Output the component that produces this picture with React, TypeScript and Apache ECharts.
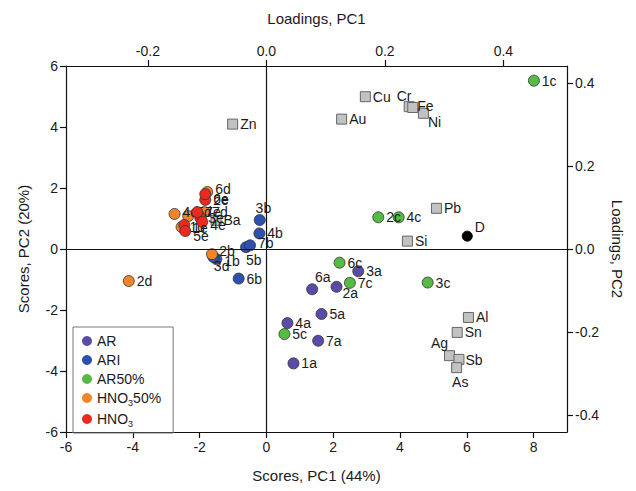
import React, { useEffect, useRef } from "react";
import * as echarts from "echarts";

// ---- Scores (PC1, PC2) ----
const arNames = ["1a", "2a", "3a", "4a", "5a", "6a", "7a"];
const arX = [0.81, 2.1, 2.75, 0.63, 1.65, 1.37, 1.55];
const arY = [-3.75, -1.24, -0.73, -2.43, -2.13, -1.32, -3.01];

const ariNames = ["1b", "2b", "3b", "4b", "5b", "6b", "7b"];
const ariX = [-1.5, -1.59, -0.2, -0.21, -0.61, -0.83, -0.49];
const ariY = [-0.33, -0.26, 0.95, 0.51, 0.06, -0.97, 0.12];

const ar50Names = ["1c", "2c", "3c", "4c", "5c", "6c", "7c"];
const ar50X = [8.01, 3.35, 4.83, 3.96, 0.54, 2.19, 2.5];
const ar50Y = [5.52, 1.04, -1.1, 1.04, -2.79, -0.45, -1.11];

const hno50Names = ["1d", "2d", "3d", "4d", "5d", "6d", "7d"];
const hno50X = [-2.54, -4.12, -1.63, -2.75, -2.34, -1.77, -1.86];
const hno50Y = [0.72, -1.05, -0.17, 1.15, 1.08, 1.87, 1.21];

const hnoNames = ["1e", "2e", "3e", "4e", "5e", "6e", "7e"];
const hnoX = [-2.46, -1.83, -1.98, -1.92, -2.43, -1.83, -2.07];
const hnoY = [0.79, 1.61, 1.02, 0.89, 0.59, 1.8, 1.21];

// ---- Loadings (PC1, PC2) ----
const loadNames = ["Zn", "Cu", "Au", "Cr", "Fe", "Ni", "Pb", "Si", "Ba", "Al", "Sn", "Ag", "Sb", "As"];
const loadX = [-0.057, 0.167, 0.127, 0.241, 0.247, 0.265, 0.287, 0.238, -0.085, 0.341, 0.322, 0.309, 0.325, 0.321];
const loadY = [0.301, 0.367, 0.313, 0.343, 0.341, 0.327, 0.098, 0.019, 0.069, -0.165, -0.201, -0.257, -0.266, -0.286];
const dName = ["D"];
const dX = [0.339];
const dY = [0.031];

// ---- Axis ticks ----
const scoreXTicks = [-6, -4, -2, 0, 2, 4, 6, 8];
const scoreYTicks = [-6, -4, -2, 0, 2, 4, 6];
const loadXTicks = [-0.2, 0, 0.2, 0.4];
const loadYTicks = [-0.4, -0.2, 0, 0.2, 0.4];

// ---- Styling (not data) ----
const FONT = "'Liberation Sans', Arial, sans-serif";
const TXT = "#1a1a1a";
const labelOffsets: Record<string, [number, number]> = {
  "3b": [-12, -12],
  "5b": [-8, 13],
  "3d": [-6, 12],
  "2b": [-2, -6],
  "1b": [0, 2],
  "6a": [-5, -12],
  "2a": [-2, 6],
  "6d": [0, -3],
  "6e": [0, 5],
  "2e": [0, 0],
  "5e": [0, 5],
  "1e": [0, 3],
  "4e": [0, 3],
  "7d": [0, 0],
  "5d": [0, -4],
  "4d": [0, -2],
  "7e": [0, 0],
  "3e": [0, 0],
  "7b": [0, -2],
  "Cr": [-20, -11],
  "Fe": [-3, -1],
  "Ni": [-3, 9],
  "Ag": [-26, -13],
  "Sb": [-1, 1],
  "As": [-12, 14],
  "D": [0, -9],
};

function buildData(names: string[], xs: number[], ys: number[]) {
  return names.map((n, i) => ({
    name: n,
    value: [xs[i], ys[i]],
    label: labelOffsets[n] ? { offset: labelOffsets[n] } : undefined,
  }));
}

function makeLabel() {
  return {
    show: true,
    position: "right",
    distance: 2,
    fontSize: 14,
    color: TXT,
    opacity: 1,
    fontFamily: FONT,
    formatter: (p: any) => p.name,
  };
}

function scoreSeries(name: string, color: string, names: string[], xs: number[], ys: number[], z: number) {
  return {
    name,
    type: "scatter",
    xAxisIndex: 0,
    yAxisIndex: 0,
    symbol: "circle",
    symbolSize: 11,
    z,
    itemStyle: { color, borderColor: "#333", borderWidth: 0.8, opacity: 1 },
    label: makeLabel(),
    data: buildData(names, xs, ys),
  };
}

const legendNames: Record<string, string> = {
  AR: "AR",
  ARI: "ARI",
  "AR50%": "AR50%",
  "HNO3 50%": "HNO{s|3}50%",
  HNO3: "HNO{s|3}",
};

export default function App() {
  const ref = useRef<HTMLDivElement>(null);
  useEffect(() => {
    if (!ref.current) return;
    const chart = echarts.init(ref.current, undefined, { renderer: "svg" });
    const axisLine = { show: true, onZero: false, lineStyle: { color: "#111", width: 1.2 } };
    const tick = { show: true, inside: false, length: 6, lineStyle: { color: "#111", width: 1.2 } };
    const nameStyle = { fontSize: 15, color: TXT, fontFamily: FONT };
    const lblCommon = { fontSize: 14, color: TXT, fontFamily: FONT, margin: 8 };
    const scoreXMin = -6, scoreXMax = 9;
    const scoreYMin = -6, scoreYMax = 6;
    const rx = 0.05637; // loading units per score unit along PC1
    const ry = 0.0735;
    const option: any = {
      animation: false,
      backgroundColor: "#fff",
      textStyle: { fontFamily: FONT },
      grid: { left: 66, right: 69, top: 66, bottom: 59, containLabel: false },
      legend: {
        show: true,
        orient: "vertical",
        left: 73,
        top: 327,
        data: ["AR", "ARI", "AR50%", "HNO3 50%", "HNO3"],
        itemWidth: 10,
        itemHeight: 10,
        itemGap: 5,
        padding: [7, 12, 5, 9],
        borderColor: "#777",
        borderWidth: 1,
        icon: "circle",
        itemStyle: { borderWidth: 0 },
        formatter: (n: string) => legendNames[n] || n,
        textStyle: {
          fontSize: 14,
          color: TXT,
          fontFamily: FONT,
          rich: { s: { fontSize: 9, padding: [9, 0, 0, 0], color: TXT, fontFamily: FONT } },
        },
      },
      xAxis: [
        {
          type: "value",
          position: "bottom",
          min: scoreXMin,
          max: scoreXMax,
          interval: 2,
          name: "Scores, PC1 (44%)",
          nameLocation: "middle",
          nameGap: 36,
          nameTextStyle: nameStyle,
          splitLine: { show: false },
          axisLine,
          axisTick: { ...tick, customValues: scoreXTicks },
          axisLabel: {
            ...lblCommon,
            customValues: scoreXTicks,
            formatter: (v: number) => (scoreXTicks.includes(v) ? String(v) : ""),
          },
        },
        {
          type: "value",
          position: "top",
          min: scoreXMin * rx,
          max: scoreXMax * rx,
          splitNumber: 4,
          name: "Loadings, PC1",
          nameLocation: "middle",
          nameGap: 40,
          nameTextStyle: nameStyle,
          splitLine: { show: false },
          axisLine,
          axisTick: { ...tick, customValues: loadXTicks },
          axisLabel: {
            ...lblCommon,
            customValues: loadXTicks,
            formatter: (v: number) =>
              loadXTicks.some((t) => Math.abs(t - v) < 1e-6) ? v.toFixed(1) : "",
          },
        },
      ],
      yAxis: [
        {
          type: "value",
          position: "left",
          min: scoreYMin,
          max: scoreYMax,
          interval: 2,
          name: "Scores, PC2 (20%)",
          nameLocation: "middle",
          nameGap: 35,
          nameTextStyle: nameStyle,
          splitLine: { show: false },
          axisLine,
          axisTick: { ...tick, customValues: scoreYTicks },
          axisLabel: {
            ...lblCommon,
            customValues: scoreYTicks,
            formatter: (v: number) => String(v),
          },
        },
        {
          type: "value",
          position: "right",
          min: scoreYMin * ry,
          max: scoreYMax * ry,
          splitNumber: 4,
          name: "Loadings, PC2",
          nameLocation: "middle",
          nameRotate: -90,
          nameGap: 39,
          nameTextStyle: nameStyle,
          splitLine: { show: false },
          axisLine,
          axisTick: { ...tick, customValues: loadYTicks },
          axisLabel: {
            ...lblCommon,
            customValues: loadYTicks,
            formatter: (v: number) =>
              loadYTicks.some((t) => Math.abs(t - v) < 1e-6) ? v.toFixed(1) : "",
          },
        },
      ],
      series: [
        {
          name: "zero",
          type: "scatter",
          xAxisIndex: 0,
          yAxisIndex: 0,
          z: 1,
          data: [],
          markLine: {
            silent: true,
            symbol: ["none", "none"],
            label: { show: false },
            lineStyle: { color: "#111", width: 1.2, type: "solid" },
            data: [{ xAxis: 0 }, { yAxis: 0 }],
          },
        },
        {
          name: "loadings",
          type: "scatter",
          xAxisIndex: 1,
          yAxisIndex: 1,
          symbol: "rect",
          symbolSize: 10,
          z: 3,
          itemStyle: { color: "#c2c2c2", borderColor: "#666", borderWidth: 1, opacity: 1 },
          label: makeLabel(),
          data: buildData(loadNames, loadX, loadY),
        },
        {
          name: "D",
          type: "scatter",
          xAxisIndex: 1,
          yAxisIndex: 1,
          symbol: "circle",
          symbolSize: 10,
          z: 3,
          itemStyle: { color: "#000", borderColor: "#000", borderWidth: 1, opacity: 1 },
          label: makeLabel(),
          data: buildData(dName, dX, dY),
        },
        scoreSeries("AR", "#5a4ca6", arNames, arX, arY, 4),
        scoreSeries("ARI", "#2d4fae", ariNames, ariX, ariY, 4),
        scoreSeries("AR50%", "#56bb45", ar50Names, ar50X, ar50Y, 4),
        scoreSeries("HNO3 50%", "#f2852a", hno50Names, hno50X, hno50Y, 4),
        scoreSeries("HNO3", "#ea2a20", hnoNames, hnoX, hnoY, 5),
      ],
    };
    chart.setOption(option);
    return () => chart.dispose();
  }, []);
  return (
    <div
      ref={ref}
      style={{ position: "fixed", left: 0, top: 0, width: 636, height: 491, background: "#fff" }}
    />
  );
}
